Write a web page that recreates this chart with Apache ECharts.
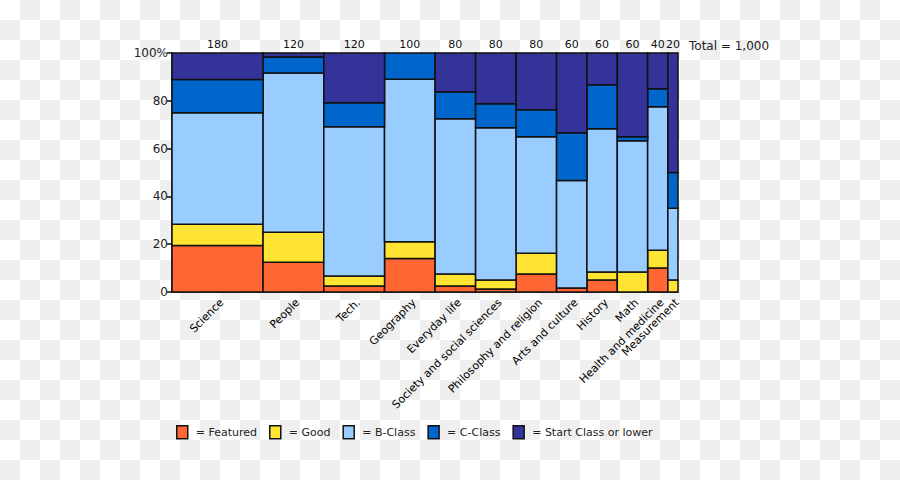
<!DOCTYPE html>
<html>
<head>
<meta charset="utf-8">
<script src="https://cdn.jsdelivr.net/npm/echarts@6/dist/echarts.min.js"></script>
<style>
html,body{margin:0;padding:0;width:900px;height:480px;overflow:hidden;
background:repeating-conic-gradient(#efefef 0 25%, #ffffff 0 50%) 0 0/40px 40px;}
#chart{width:900px;height:480px;}
</style>
</head>
<body>
<div id="chart"></div>
<script>
const categories = ['Science','People','Tech.','Geography','Everyday life','Society and social sciences','Philosophy and religion','Arts and culture','History','Math','Health and medicine','Measurement'];
const totals = [180,120,120,100,80,80,80,60,60,60,40,20];
const featured   = [35,15,3,14,2,1,6,1,3,0,4,0];
const good       = [16,15,5,7,4,3,7,0,2,5,3,1];
const bClass     = [84,80,75,68,52,51,39,27,36,33,24,6];
const cClass     = [25,8,12,11,9,8,9,12,11,1,3,3];
const startClass = [20,2,25,0,13,17,19,20,8,21,6,10];
const classNames = ['Featured','Good','B-Class','C-Class','Start Class or lower'];
const classColors = ['#FF6633','#FFE433','#99CCFF','#0066CC','#333399'];

const classData = [featured, good, bClass, cClass, startClass];
const grandTotal = totals.reduce((a,b)=>a+b,0);

// column extents
const x0s = [], x1s = [], mids = [];
let acc = 0;
totals.forEach(t => { x0s.push(acc); acc += t; x1s.push(acc); mids.push((x0s[x0s.length-1]+acc)/2); });

// stacked percentage extents
const cum = totals.map(()=>0);
const seriesData = classData.map(arr => arr.map((v,i) => {
  const y0 = cum[i] / totals[i] * 100;
  cum[i] += v;
  const y1 = cum[i] / totals[i] * 100;
  return [x0s[i], x1s[i], y0, y1];
}));

const midToCat = {}, midToTotal = {};
mids.forEach((m,i)=>{ midToCat[m.toFixed(3)] = categories[i]; midToTotal[m.toFixed(3)] = totals[i]; });
const evenMids = mids.filter((m,i)=>i%2===0);
const oddMids = mids.filter((m,i)=>i%2===1);

const font = 'DejaVu Sans, Verdana, sans-serif';

function renderItem(params, api) {
  const a = api.value(2), b = api.value(3);
  if (b - a <= 0) return null;
  const p0 = api.coord([api.value(0), b]);
  const p1 = api.coord([api.value(1), a]);
  return {
    type: 'rect',
    shape: { x: p0[0], y: p0[1], width: p1[0]-p0[0], height: p1[1]-p0[1] },
    style: { fill: api.visual('color'), stroke: '#111', lineWidth: 1.5 }
  };
}

function catAxis(values, showLine) {
  return { type: 'value', min: 0, max: grandTotal, position: 'bottom',
    splitLine: { show: false }, axisTick: { show: false },
    axisLine: { show: showLine, onZero: false, lineStyle: { color: '#111', width: 1.5 } },
    axisLabel: { customValues: values, rotate: 45, margin: 13, hideOverlap: false,
      padding: [0, -6, 0, 0],
      showMinLabel: true, showMaxLabel: true,
      fontFamily: font, fontSize: 11, color: '#000',
      formatter: v => midToCat[Number(v).toFixed(3)] || '' } };
}

const chart = echarts.init(document.getElementById('chart'), null, {renderer:'svg'});
chart.setOption({
  backgroundColor: 'transparent',
  animation: false,
  color: classColors,
  textStyle: { fontFamily: font },
  grid: { left: 172, right: 222, top: 53, bottom: 188 },
  legend: {
    data: classNames,
    top: 420, left: 171,
    icon: 'rect', itemWidth: 11, itemHeight: 13, itemGap: 12,
    itemStyle: { borderColor: '#111', borderWidth: 1.5 },
    formatter: n => '= ' + n,
    textStyle: { fontFamily: font, fontSize: 11, color: '#222', padding: [0,0,0,3] }
  },
  xAxis: [
    catAxis(evenMids, true),
    catAxis(oddMids, false),
    { type: 'value', min: 0, max: grandTotal, position: 'top',
      splitLine: { show: false }, axisTick: { show: false },
      axisLine: { show: false },
      axisLabel: { customValues: mids, margin: 3, hideOverlap: false,
        showMinLabel: true, showMaxLabel: true,
        fontFamily: font, fontSize: 11, color: '#111',
        formatter: v => String(midToTotal[Number(v).toFixed(3)] ?? '') } }
  ],
  yAxis: {
    type: 'value', min: 0, max: 100, interval: 20,
    splitLine: { show: false },
    axisLine: { show: true, lineStyle: { color: '#111', width: 1.5 } },
    axisTick: { show: true, length: 5, lineStyle: { color: '#111', width: 1.5 } },
    axisLabel: { fontFamily: font, fontSize: 12, color: '#222', margin: 4,
      formatter: v => v === 100 ? '100%' : String(v) }
  },
  graphic: [{
    type: 'text', left: 689, top: 40,
    style: { text: 'Total = ' + grandTotal.toLocaleString('en-US'), fontFamily: font, fontSize: 12, fill: '#222' }
  }],
  series: classNames.map((n, k) => ({
    name: n, type: 'custom', renderItem: renderItem,
    encode: { x: [0,1], y: [2,3] },
    data: seriesData[k]
  }))
});
</script>
</body>
</html>
